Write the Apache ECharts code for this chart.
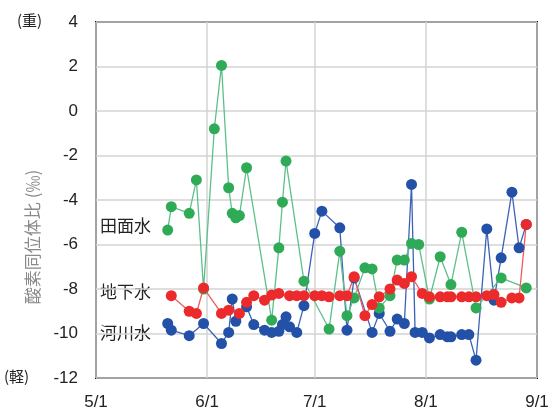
<!DOCTYPE html>
<html>
<head>
<meta charset="utf-8">
<script src="https://cdn.jsdelivr.net/npm/echarts@6/dist/echarts.min.js"></script>
<style>
  html, body { margin: 0; padding: 0; background: #fff; }
  #chart { width: 552px; height: 414px; }
</style>
</head>
<body>
<div id="chart"></div>
<script>
// x tick labels (month starts)
const monthLabels = ['5/1', '6/1', '7/1', '8/1', '9/1']
const yTicks = [-12, -10, -8, -6, -4, -2, 0, 2, 4]

// 田面水
const paddyDates = ['5/21', '5/22', '5/27', '5/29', '5/31', '6/3', '6/5', '6/7', '6/8', '6/9', '6/10', '6/12',
  '6/19', '6/21', '6/22', '6/23', '6/28', '7/5', '7/8', '7/10', '7/12', '7/15', '7/17', '7/19', '7/22',
  '7/24', '7/26', '7/28', '7/30', '8/2', '8/5', '8/8', '8/11', '8/15', '8/22', '8/29']
const paddyValues = [-5.35, -4.3, -4.6, -3.1, -8.0, -0.8, 2.05, -3.45, -4.6, -4.8, -4.7, -2.55,
  -9.4, -6.15, -4.1, -2.25, -7.65, -9.8, -6.3, -9.2, -8.4, -7.05, -7.1, -8.85, -8.3,
  -6.7, -6.7, -5.95, -6.0, -8.45, -6.55, -7.8, -5.45, -8.85, -7.5, -7.95]

// 地下水
const groundDates = ['5/22', '5/27', '5/29', '5/31', '6/5', '6/7', '6/10', '6/12', '6/14', '6/17', '6/19',
  '6/21', '6/24', '6/26', '6/28', '7/1', '7/3', '7/5', '7/8', '7/10', '7/12', '7/15', '7/17', '7/19',
  '7/22', '7/24', '7/26', '7/28', '7/31', '8/2', '8/5', '8/7', '8/8', '8/11', '8/13', '8/15', '8/18',
  '8/20', '8/22', '8/25', '8/27', '8/29']
const groundValues = [-8.3, -9.0, -9.1, -7.95, -9.1, -8.95, -9.1, -8.6, -8.3, -8.5, -8.27,
  -8.2, -8.3, -8.3, -8.3, -8.3, -8.3, -8.35, -8.3, -8.3, -7.45, -9.2, -8.7, -8.35,
  -8.0, -7.6, -7.75, -7.45, -8.2, -8.35, -8.35, -8.35, -8.35, -8.35, -8.35, -8.35, -8.3,
  -8.25, -8.6, -8.4, -8.4, -5.1]

// 河川水
const riverDates = ['5/21', '5/22', '5/27', '5/31', '6/5', '6/7', '6/8', '6/9', '6/12', '6/14', '6/17',
  '6/19', '6/21', '6/22', '6/23', '6/24', '6/26', '6/28', '7/1', '7/3', '7/8', '7/10', '7/12', '7/17',
  '7/19', '7/22', '7/24', '7/26', '7/28', '7/29', '7/31', '8/2', '8/5', '8/7', '8/8', '8/11', '8/13',
  '8/15', '8/18', '8/20', '8/22', '8/25', '8/27', '8/29']
const riverValues = [-9.55, -9.85, -10.1, -9.55, -10.45, -9.95, -8.45, -9.45, -8.8, -9.6, -9.85,
  -9.95, -9.9, -9.6, -9.25, -9.7, -9.95, -8.75, -5.5, -4.5, -5.25, -9.85, -7.5, -9.95,
  -9.1, -9.9, -9.35, -9.55, -3.3, -9.95, -9.95, -10.2, -10.05, -10.15, -10.15, -10.05, -10.05,
  -11.2, -5.3, -8.5, -6.6, -3.65, -6.15, -5.1]

// days since 5/1
const monthStart = { 5: 0, 6: 31, 7: 61, 8: 92, 9: 123 }
function toDay(s) {
  const [m, d] = s.split('/').map(Number)
  return monthStart[m] + d - 1
}
const tickDays = monthLabels.map(toDay)

function pairs(dates, values) {
  return dates.map((d, i) => [toDay(d), values[i]])
}

const latin = '"Liberation Sans", Arial, sans-serif'
const cjk = '"Noto Sans CJK JP", sans-serif'

function initSeries(name, data, dot, line) {
  return {
    name,
    data,
    type: 'line',
    symbol: 'circle',
    symbolSize: 11,
    itemStyle: { color: dot },
    lineStyle: { color: line, width: 1.3 },
    emphasis: { disabled: true },
    animation: false
  }
}

const chart = echarts.init(document.getElementById('chart'))
const option = {
  grid: {
    left: 96,
    right: 15,
    top: 22,
    bottom: 36,
    show: true,
    borderColor: '#111',
    borderWidth: 2
  },
  xAxis: {
    type: 'value',
    min: 0,
    max: 123,
    axisLine: { show: false },
    axisTick: { show: false, customValues: tickDays },
    axisLabel: {
      customValues: tickDays,
      formatter: v => monthLabels[tickDays.indexOf(v)],
      color: '#222',
      fontSize: 17,
      fontFamily: latin,
      margin: 16
    },
    splitLine: { show: true, lineStyle: { color: '#d3d3d3', width: 1.5 } }
  },
  yAxis: {
    type: 'value',
    min: yTicks[0],
    max: yTicks[yTicks.length - 1],
    interval: 2,
    axisLine: { show: false },
    axisTick: { show: false },
    axisLabel: {
      color: '#222',
      fontSize: 17,
      fontFamily: latin,
      margin: 18
    },
    splitLine: { show: true, lineStyle: { color: '#d3d3d3', width: 1.5 } }
  },
  graphic: [
    {
      type: 'text', left: 17, top: 13,
      style: { text: '(重)', fontSize: 15, fontFamily: cjk, fill: '#222' }
    },
    {
      type: 'text', left: 4, top: 369,
      style: { text: '(軽)', fontSize: 15, fontFamily: cjk, fill: '#222' }
    },
    {
      type: 'text', x: 33, y: 237, rotation: Math.PI / 2,
      style: { text: '酸素同位体比 (‰)', fontSize: 17, fontFamily: cjk, fill: '#8a8a8a', align: 'center', verticalAlign: 'middle' }
    },
    {
      type: 'text', left: 100, top: 217,
      style: { text: '田面水', fontSize: 17, fontFamily: cjk, fill: '#222' }
    },
    {
      type: 'text', left: 100, top: 283,
      style: { text: '地下水', fontSize: 17, fontFamily: cjk, fill: '#222' }
    },
    {
      type: 'text', left: 100, top: 324,
      style: { text: '河川水', fontSize: 17, fontFamily: cjk, fill: '#222' }
    }
  ],
  series: [
    initSeries('河川水', pairs(riverDates, riverValues), '#2451a8', '#3b62b8'),
    initSeries('田面水', pairs(paddyDates, paddyValues), '#2fab58', '#5cc08a'),
    initSeries('地下水', pairs(groundDates, groundValues), '#ec2a2c', '#f05a5a')
  ]
}
chart.setOption(option)
</script>
</body>
</html>
